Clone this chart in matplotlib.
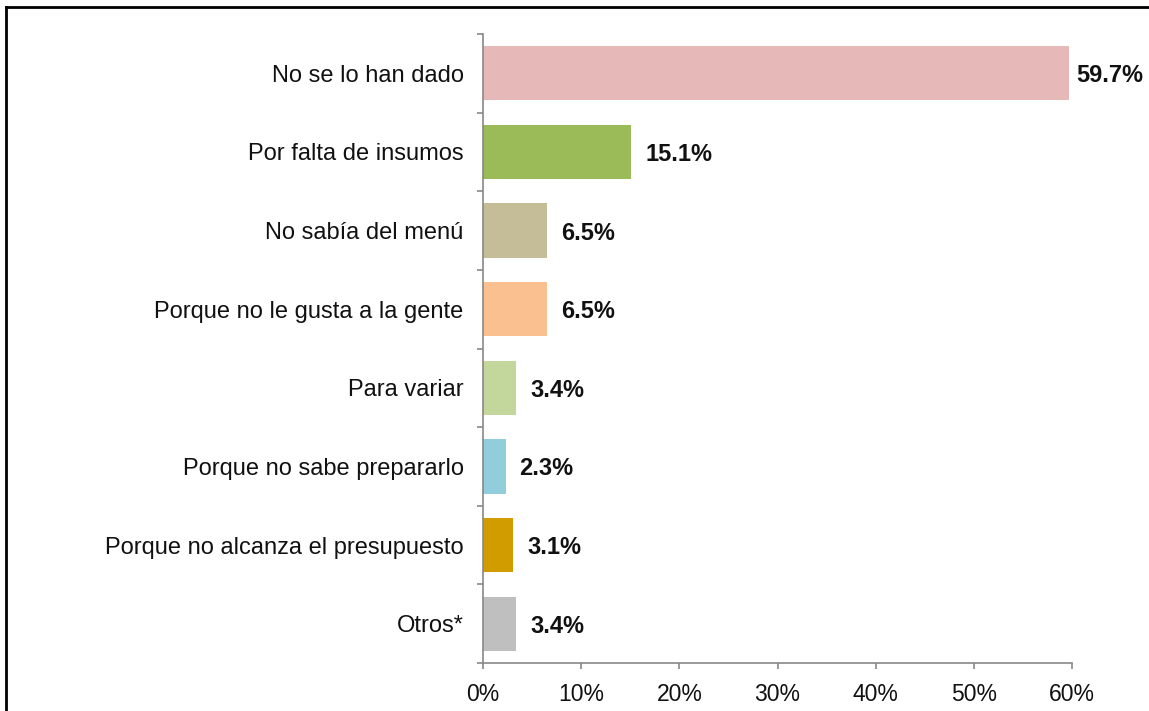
import matplotlib.pyplot as plt
from matplotlib.lines import Line2D
from matplotlib.ticker import FixedLocator, PercentFormatter

plt.rcParams['font.family'] = ['Liberation Sans', 'DejaVu Sans']

categories = ['No se lo han dado', 'Por falta de insumos', 'No sabía del menú',
              'Porque no le gusta a la gente', 'Para variar', 'Porque no sabe prepararlo',
              'Porque no alcanza el presupuesto', 'Otros*']
values = [59.7, 15.1, 6.5, 6.5, 3.4, 2.3, 3.1, 3.4]
colors = ['#E6B8B7', '#9BBB59', '#C4BD97', '#FAC090', '#C3D69B', '#92CDDC', '#D09C00', '#BFBFBF']
xticks = [0, 10, 20, 30, 40, 50, 60]

fig = plt.figure(figsize=(11.49, 7.11), dpi=100)
ax = fig.add_axes([483 / 1149, 1 - 663 / 711, (1072 - 483) / 1149, (663 - 34) / 711])

ypos = list(range(len(categories)))
ax.barh(ypos, values, height=0.69, color=colors)
ax.set_ylim(len(categories) - 0.5, -0.5)
ax.set_xlim(0, 60)

for y, v in zip(ypos, values):
    # the largest label sits closer to its bar so it fits in the picture
    off = 5 if v == max(values) else 10
    ax.annotate(f'{v:.1f}%', (v, y), xytext=(off, 0), textcoords='offset points',
                va='center_baseline', ha='left', fontsize=17, fontweight='bold',
                color='#111111')

ax.set_yticks(ypos)
ax.set_yticklabels(categories, fontsize=17, color='#111111')
ax.yaxis.set_minor_locator(FixedLocator([i - 0.5 for i in range(len(categories) + 1)]))
ax.tick_params(axis='y', which='major', length=0, pad=14)
ax.tick_params(axis='y', which='minor', length=4, width=1.2, color='#888888')

ax.set_xticks(xticks)
ax.xaxis.set_major_formatter(PercentFormatter(decimals=0))
ax.tick_params(axis='x', length=4, width=1.2, color='#888888', pad=10.5, labelsize=16.5,
               labelcolor='#111111')

for side in ['top', 'right']:
    ax.spines[side].set_visible(False)
for side in ['left', 'bottom']:
    ax.spines[side].set_color('#888888')
    ax.spines[side].set_linewidth(1.2)

# frame of the original picture (only top and left edges visible)
fig.add_artist(Line2D([6 / 1149, 6 / 1149], [0, 1 - 7 / 711], transform=fig.transFigure,
                      color='black', lw=2))
fig.add_artist(Line2D([6 / 1149, 1], [1 - 7 / 711, 1 - 7 / 711], transform=fig.transFigure,
                      color='black', lw=2))

fig.savefig('out.png', dpi=100)
